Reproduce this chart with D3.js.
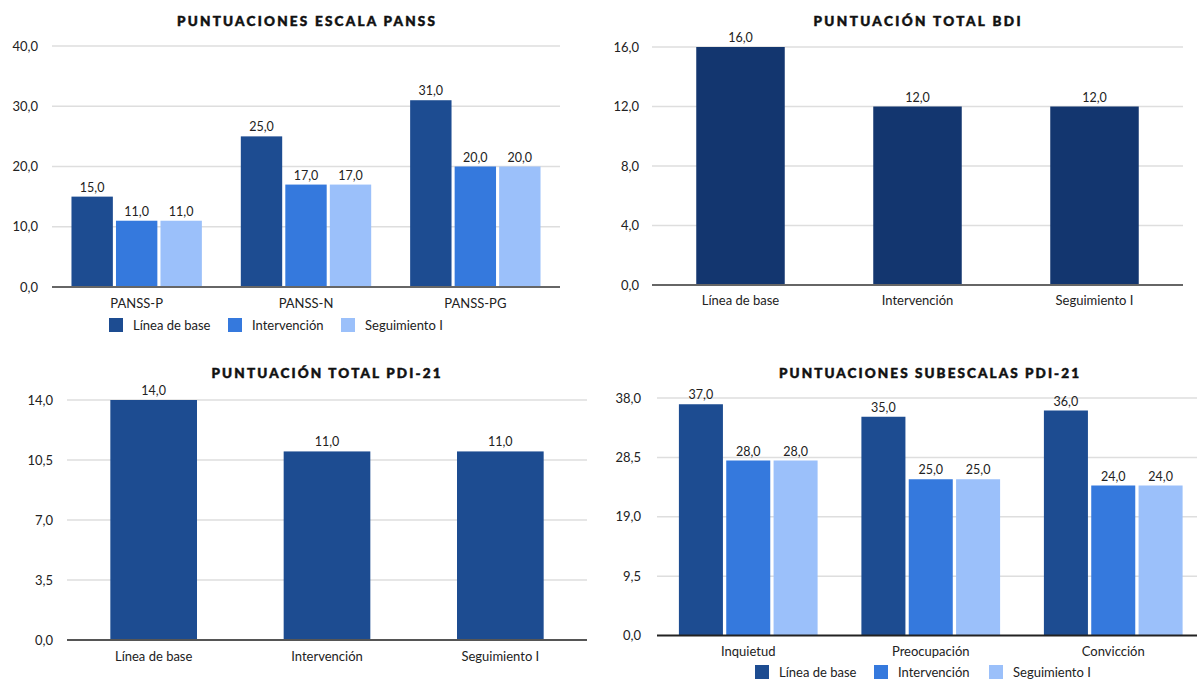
<!DOCTYPE html>
<html>
<head>
<meta charset="utf-8" />
<title></title>
<style>
html, body {
    padding: 0px;
    margin: 0px;
    background: #fff;
}
svg {
    display: block;
    font-family: Lato, "Open Sans", sans-serif;
}
.grid line {
    stroke: #dedede;
    stroke-width: 1.5;
}
</style>
</head>
<body>
<svg id="chart" width="1197" height="682"></svg>

<script src="https://cdn.jsdelivr.net/npm/d3@7"></script>
<script>
!(function(){
    "use strict"

    // data
    var series = ["Línea de base", "Intervención", "Seguimiento I"]

    var pannsCats = ["PANSS-P", "PANSS-N", "PANSS-PG"]
    var pannsBase = [15, 25, 31]
    var pannsInter = [11, 17, 20]
    var pannsSeg = [11, 17, 20]
    var pannsTicks = [0, 10, 20, 30, 40]

    var bdiCats = ["Línea de base", "Intervención", "Seguimiento I"]
    var bdiValues = [16, 12, 12]
    var bdiTicks = [0, 4, 8, 12, 16]

    var pdiCats = ["Línea de base", "Intervención", "Seguimiento I"]
    var pdiValues = [14, 11, 11]
    var pdiTicks = [0, 3.5, 7, 10.5, 14]

    var subCats = ["Inquietud", "Preocupación", "Convicción"]
    var subBase = [37, 35, 36]
    var subInter = [28, 25, 24]
    var subSeg = [28, 25, 24]
    var subTicks = [0, 9.5, 19, 28.5, 38]

    var colors = ["#1d4c91", "#3579dd", "#9bc0fa"]

    var loc = d3.formatLocale({decimal: ",", thousands: ".", grouping: [3], currency: ["", "€"]})
    var fmt = loc.format(".1f")

    var svg = d3.select("#chart")

    function grouped(values) {
        // values: array per series -> rows per category
        return values[0].map(function(v, i){
            return values.map(function(s){ return s[i] })
        })
    }

    function drawChart(cfg) {
        var g = svg.append("g")

        var x0 = d3.scaleBand()
            .domain(cfg.cats)
            .range([cfg.left, cfg.right])
            .paddingInner(cfg.pad)
            .paddingOuter(cfg.pad / 2)

        var y = d3.scaleLinear()
            .domain([0, d3.max(cfg.ticks)])
            .range([cfg.bottom, cfg.top])

        // title
        g.append("text")
            .attr("x", cfg.titleX)
            .attr("y", cfg.titleY)
            .attr("text-anchor", "middle")
            .attr("font-size", 13.5)
            .attr("font-weight", 900)
            .attr("fill", "#111")
            .attr("stroke", "#111")
            .attr("stroke-width", 0.5)
            .attr("textLength", cfg.titleW)
            .attr("lengthAdjust", "spacing")
            .text(cfg.title)

        // grid
        g.append("g").attr("class", "grid")
            .selectAll("line")
            .data(cfg.ticks.filter(function(t){ return t > 0 }))
            .enter().append("line")
            .attr("x1", cfg.left).attr("x2", cfg.gridRight)
            .attr("y1", function(d){ return y(d) })
            .attr("y2", function(d){ return y(d) })

        // y labels
        g.append("g").selectAll("text")
            .data(cfg.ticks)
            .enter().append("text")
            .attr("x", cfg.labelX)
            .attr("y", function(d){ return y(d) + 4.5 })
            .attr("text-anchor", "end")
            .attr("font-size", 13)
            .attr("fill", "#222")
            .text(function(d){ return fmt(d) })

        var rows = grouped(cfg.values)
        var nSeries = cfg.values.length

        var x1 = d3.scaleBand()
            .domain(d3.range(nSeries))
            .range([0, x0.bandwidth()])
            .paddingInner(nSeries > 1 ? 0.07 : 0)

        var groups = g.append("g").selectAll("g")
            .data(rows)
            .enter().append("g")
            .attr("transform", function(d, i){ return "translate(" + x0(cfg.cats[i]) + ",0)" })

        groups.selectAll("rect")
            .data(function(d){ return d })
            .enter().append("rect")
            .attr("x", function(d, j){ return x1(j) })
            .attr("width", x1.bandwidth())
            .attr("y", function(d){ return y(d) })
            .attr("height", function(d){ return y(0) - y(d) })
            .attr("fill", function(d, j){ return cfg.colors[j] })

        groups.selectAll("text")
            .data(function(d){ return d })
            .enter().append("text")
            .attr("x", function(d, j){ return x1(j) + x1.bandwidth() / 2 })
            .attr("y", function(d){ return y(d) - 5 })
            .attr("text-anchor", "middle")
            .attr("font-size", 12.5)
            .attr("fill", "#222")
            .text(function(d){ return fmt(d) })

        // baseline
        g.append("line")
            .attr("x1", cfg.left).attr("x2", cfg.gridRight)
            .attr("y1", y(0)).attr("y2", y(0))
            .attr("stroke", cfg.baseColor)
            .attr("stroke-width", 2)

        // categories
        g.append("g").selectAll("text")
            .data(cfg.cats)
            .enter().append("text")
            .attr("x", function(d){ return x0(d) + x0.bandwidth() / 2 })
            .attr("y", cfg.catY)
            .attr("text-anchor", "middle")
            .attr("font-size", 13)
            .attr("fill", "#222")
            .text(function(d){ return d })

        // legend
        if (cfg.legend) {
            var lg = g.append("g").selectAll("g")
                .data(series)
                .enter().append("g")
                .attr("transform", function(d, i){ return "translate(" + cfg.legend.xs[i] + "," + cfg.legend.y + ")" })
            lg.append("rect")
                .attr("width", 14).attr("height", 14)
                .attr("fill", function(d, i){ return cfg.colors[i] })
            lg.append("text")
                .attr("x", 24).attr("y", 12)
                .attr("font-size", 13)
                .attr("fill", "#222")
                .text(function(d){ return d })
        }
    }

    drawChart({
        title: "PUNTUACIONES ESCALA PANSS", titleX: 306, titleY: 26, titleW: 258,
        cats: pannsCats, values: [pannsBase, pannsInter, pannsSeg], ticks: pannsTicks,
        colors: colors, pad: 0.23,
        left: 52, right: 560, gridRight: 560, top: 46, bottom: 287, labelX: 38,
        catY: 308, baseColor: "#666",
        legend: {y: 318, xs: [109, 228, 341]}
    })

    drawChart({
        title: "PUNTUACIÓN TOTAL BDI", titleX: 917, titleY: 26, titleW: 207,
        cats: bdiCats, values: [bdiValues], ticks: bdiTicks,
        colors: ["#13366f"], pad: 0.5,
        left: 652, right: 1183, gridRight: 1183, top: 47, bottom: 285, labelX: 639,
        catY: 305, baseColor: "#666"
    })

    drawChart({
        title: "PUNTUACIÓN TOTAL PDI-21", titleX: 326, titleY: 378, titleW: 229,
        cats: pdiCats, values: [pdiValues], ticks: pdiTicks,
        colors: [colors[0]], pad: 0.5,
        left: 67, right: 587, gridRight: 587, top: 400, bottom: 640, labelX: 53,
        catY: 661, baseColor: "#555"
    })

    drawChart({
        title: "PUNTUACIONES SUBESCALAS PDI-21", titleX: 929, titleY: 378, titleW: 300,
        cats: subCats, values: [subBase, subInter, subSeg], ticks: subTicks,
        colors: colors, pad: 0.24,
        left: 657, right: 1204.5, gridRight: 1197, top: 398, bottom: 635.5, labelX: 641,
        catY: 656, baseColor: "#222",
        legend: {y: 665, xs: [755, 874, 989]}
    })

}());
</script>
</body>
</html>
